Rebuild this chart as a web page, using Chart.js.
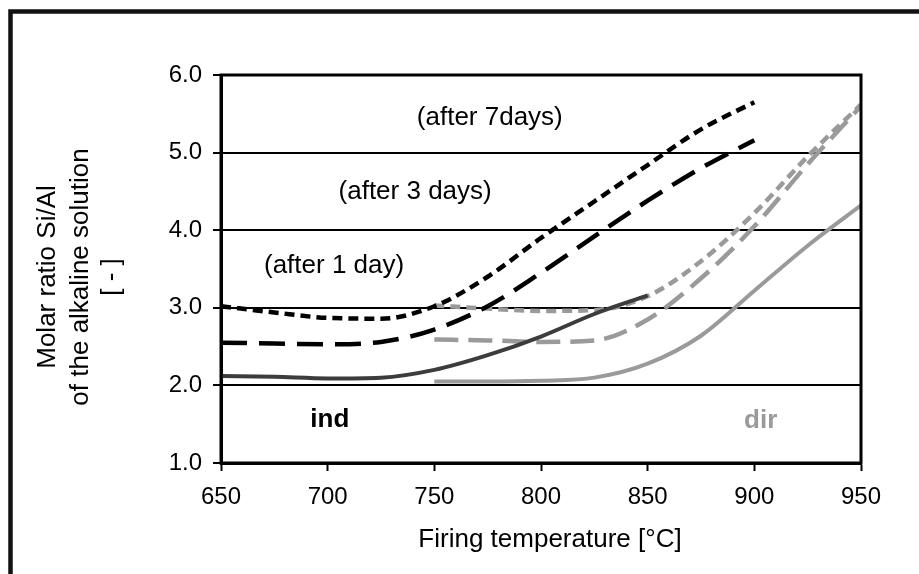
<!DOCTYPE html>
<html lang="en">
<head>
  <meta charset="UTF-8">
  <title>Molar ratio Si/Al vs firing temperature</title>
  <script src="https://cdn.jsdelivr.net/npm/chart.js"></script>
  <style>
    html, body { margin: 0; padding: 0; background: #fff; }
    #wrap { width: 919px; height: 574px; }
  </style>
</head>
<body>
  <div id="wrap"><canvas id="grafica"></canvas></div>

  <script>
    // temperatures (°C)
    var tempsInd = [650, 675, 700, 725, 750, 775, 800, 825, 850, 875, 900];
    var tempsDir = [750, 775, 800, 825, 850, 875, 900, 925, 950];

    // Si/Al ratio, indirect ("ind") series
    var ind1Day  = [2.12, 2.11, 2.09, 2.10, 2.20, 2.39, 2.63, 2.92, 3.16];
    var ind3Days = [2.55, 2.54, 2.53, 2.56, 2.72, 3.02, 3.45, 3.92, 4.38, 4.80, 5.16];
    var ind7Days = [3.02, 2.94, 2.87, 2.86, 3.02, 3.40, 3.90, 4.37, 4.84, 5.30, 5.65];

    // Si/Al ratio, direct ("dir") series
    var dir1Day  = [2.05, 2.05, 2.06, 2.10, 2.28, 2.64, 3.22, 3.80, 4.32];
    var dir3Days = [2.59, 2.58, 2.56, 2.58, 2.85, 3.38, 4.05, 4.85, 5.60];
    var dir7Days = [3.03, 2.99, 2.96, 2.97, 3.15, 3.60, 4.22, 4.95, 5.62];

    var xTicks = [650, 700, 750, 800, 850, 900, 950];
    var yTicks = [1, 2, 3, 4, 5, 6];

    var yTitle = ["Molar ratio Si/Al", "of the alkaline solution", "[ - ]"];
    var xTitle = "Firing temperature [°C]";

    // in-plot notes: text, temperature, ratio
    var notes = [
      { text: "(after 7days)",  t: 776, v: 5.45 },
      { text: "(after 3 days)", t: 741, v: 4.50 },
      { text: "(after 1 day)",  t: 703, v: 3.54 }
    ];
    var groupNames = [
      { text: "ind", t: 701, v: 1.55, color: "#000000" },
      { text: "dir", t: 903, v: 1.54, color: "#9a9a9a" }
    ];

    var FONT = "'Liberation Sans', Arial, sans-serif";

    function puntos(xs, ys) {
      var out = [];
      for (var i = 0; i < ys.length; i++) out.push({ x: xs[i], y: ys[i] });
      return out;
    }

    function serie(label, xs, ys, color, dash, width) {
      return {
        label: label,
        data: puntos(xs, ys),
        borderColor: color,
        borderWidth: width,
        borderDash: dash,
        borderCapStyle: 'butt',
        pointRadius: 0,
        fill: false,
        cubicInterpolationMode: 'monotone'
      };
    }

    var extras = {
      id: 'extras',
      beforeDraw: function (chart) {
        var ctx = chart.ctx;
        ctx.save();
        ctx.fillStyle = '#fff';
        ctx.fillRect(0, 0, chart.width, chart.height);
        ctx.restore();
      },
      afterDraw: function (chart) {
        var ctx = chart.ctx;
        var a = chart.chartArea;
        var sx = chart.scales.x, sy = chart.scales.y;
        ctx.save();

        // plot box
        ctx.strokeStyle = '#000';
        ctx.lineWidth = 3;
        ctx.strokeRect(a.left, a.top, a.right - a.left, a.bottom - a.top);

        // outer frame (runs off the picture on right and bottom)
        ctx.strokeStyle = '#111';
        ctx.lineWidth = 4.5;
        ctx.strokeRect(10.5, 11.5, 2000, 2000);

        // notes
        ctx.fillStyle = '#000';
        ctx.textAlign = 'center';
        ctx.textBaseline = 'middle';
        ctx.font = '26px ' + FONT;
        notes.forEach(function (n) {
          ctx.fillText(n.text, sx.getPixelForValue(n.t), sy.getPixelForValue(n.v));
        });
        ctx.font = 'bold 26px ' + FONT;
        groupNames.forEach(function (g) {
          ctx.fillStyle = g.color;
          ctx.fillText(g.text, sx.getPixelForValue(g.t), sy.getPixelForValue(g.v));
        });

        // x title
        ctx.fillStyle = '#000';
        ctx.font = '26px ' + FONT;
        ctx.textBaseline = 'alphabetic';
        ctx.fillText(xTitle, 550, 547);

        // y title, rotated
        ctx.translate(0, 277);
        ctx.rotate(-Math.PI / 2);
        var bases = [55, 88, 119];
        yTitle.forEach(function (line, i) {
          ctx.fillText(line, 0, bases[i]);
        });
        ctx.restore();
      }
    };

    var ctx = document.getElementById('grafica').getContext('2d');
    new Chart(ctx, {
      type: 'line',
      data: {
        datasets: [
          serie('ind 1 day',  tempsInd, ind1Day,  '#3c3c3c', [], 4),
          serie('ind 3 days', tempsInd, ind3Days, '#000000', [26, 12], 4.5),
          serie('ind 7 days', tempsInd, ind7Days, '#000000', [10, 6], 4.5),
          serie('dir 1 day',  tempsDir, dir1Day,  '#9a9a9a', [], 4),
          serie('dir 3 days', tempsDir, dir3Days, '#9a9a9a', [24, 10], 4.5),
          serie('dir 7 days', tempsDir, dir7Days, '#9a9a9a', [10, 6], 4.5)
        ]
      },
      options: {
        responsive: true,
        maintainAspectRatio: false,
        animation: false,
        layout: { padding: { left: 0, right: 58, top: 75, bottom: 0 } },
        plugins: {
          legend: { display: false },
          tooltip: { enabled: false }
        },
        scales: {
          x: {
            type: 'linear',
            min: 650,
            max: 950,
            afterFit: function (s) { s.height = 111; },
            afterBuildTicks: function (s) {
              s.ticks = xTicks.map(function (v) { return { value: v }; });
            },
            ticks: {
              color: '#000',
              padding: 12,
              maxRotation: 0,
              font: { family: FONT, size: 24 }
            },
            grid: {
              drawOnChartArea: false,
              drawTicks: true,
              tickLength: 8,
              tickWidth: 2,
              tickColor: '#000'
            },
            border: { display: true, color: '#000', width: 3 }
          },
          y: {
            min: 1,
            max: 6,
            afterFit: function (s) { s.width = 221; },
            afterBuildTicks: function (s) {
              s.ticks = yTicks.map(function (v) { return { value: v }; });
            },
            ticks: {
              color: '#000',
              padding: 11,
              font: { family: FONT, size: 24 },
              callback: function (v) { return Number(v).toFixed(1); }
            },
            grid: {
              color: '#000',
              lineWidth: 2,
              drawTicks: true,
              tickLength: 8,
              tickWidth: 2,
              tickColor: '#000'
            },
            border: { display: true, color: '#000', width: 3 }
          }
        }
      },
      plugins: [extras]
    });
  </script>
</body>
</html>
